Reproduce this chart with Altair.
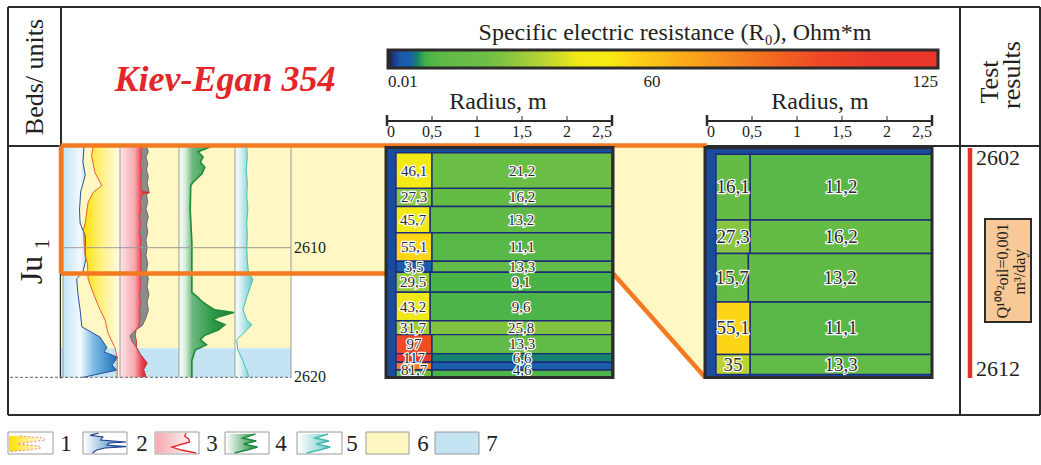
import altair as alt
import pandas as pd

W, H = 1041, 465
SERIF = "Liberation Serif"
INK = "#231f20"

# ---------------- well log of Kiev-Egan 354 ----------------
# depth in m, readings in % of the track width
log1_depth = [2602.2, 2602.9, 2604.2, 2605.2, 2605.75, 2606.5, 2608.1, 2608.6, 2609.6, 2610.65,
              2611.2, 2612.4, 2613.5, 2614.8, 2615.6, 2616.6, 2617.7, 2618.45, 2620.0]
log1_value = [53, 50, 56, 68, 53, 44, 39, 36, 37, 39, 43, 44, 53, 65, 74, 79, 91, 95, 95]

log2_depth = [2602.2, 2603.4, 2604.4, 2605.7, 2607.1, 2608.1, 2609.1, 2610.4, 2610.9, 2611.9,
              2612.4, 2613.5, 2614.8, 2616.1, 2616.9, 2617.7, 2618.05, 2618.45, 2619.05, 2619.45, 2620.0]
log2_value = [37, 35, 39, 31, 29, 30, 39, 39, 40, 35, 24, 26, 30, 33, 65, 77, 72, 96, 86, 94, 35]

log3_depth = [2602.2, 2602.6, 2603.0, 2603.5, 2604.0, 2604.5, 2605.0, 2605.6, 2605.75, 2605.9,
              2606.5, 2607.0, 2607.6, 2608.2, 2608.8, 2609.4, 2610.0, 2610.6, 2611.2, 2611.8,
              2612.4, 2613.0, 2613.6, 2614.2, 2614.8, 2615.4, 2616.0, 2616.4, 2616.8, 2617.2,
              2617.7, 2618.2, 2618.9, 2619.4, 2620.0]
log3_value = [38, 35, 37, 34, 37, 35, 36, 36, 50, 37, 34, 36, 33, 35, 33, 36, 34, 36, 35, 36,
              34, 35, 33, 35, 33, 34, 32, 27, 26, 28, 28, 34, 46, 40, 44]
log3b_value = [45, 48, 44, 47, 45, 48, 46, 49, 49, 45, 47, 44, 48, 45, 47, 44, 46, 44, 47, 45,
               48, 46, 49, 46, 48, 44, 38, 25, 17, 20, 28, 34, 46, 40, 44]

log4_depth = [2602.2, 2602.6, 2603.0, 2603.4, 2603.8, 2604.3, 2604.95, 2605.2, 2607.1, 2609.6,
              2611.2, 2613.45, 2613.85, 2614.15, 2614.4, 2614.8, 2615.0, 2615.35, 2615.55, 2615.95,
              2616.35, 2616.75, 2617.1, 2617.5, 2617.9, 2618.7, 2620.0]
log4_value = [58, 34, 43, 38, 46, 41, 25, 21, 20, 23, 23, 23, 34, 41, 49, 64, 98, 70, 61, 82,
              70, 46, 38, 49, 29, 23, 23]

log5_depth = [2602.2, 2603.0, 2604.0, 2605.0, 2606.0, 2607.0, 2608.0, 2609.0, 2610.0, 2611.0,
              2611.9, 2612.45, 2613.8, 2614.8, 2615.55, 2615.95, 2616.35, 2617.1, 2617.9, 2618.7,
              2619.7, 2620.0]
log5_value = [21, 22, 20, 22, 21, 23, 21, 22, 21, 22, 24, 32, 21, 14, 21, 30, 21, 3, 5, 14, 23, 24]

sand_base = 2617.75          # light-yellow interval above, light-blue below
depth_marks = [2610, 2620]
window = (2602.2, 2612.0)     # tested interval shown in the detailed model
test_top, test_bottom = 2602, 2612

# ---------------- resistivity models (Ohm*m) ----------------
left_edges = [2602.67, 2605.42, 2606.82, 2608.85, 2611.05, 2611.89, 2613.44, 2615.64, 2616.71,
              2618.17, 2618.84, 2619.44, 2619.98]
left_invaded = [46.1, 27.3, 45.7, 55.1, 3.5, 29.5, 43.2, 31.7, 97, 117, 81.7, 22]
left_virgin = [21.2, 16.2, 13.2, 11.1, 13.3, 9.1, 9.6, 25.8, 13.3, 6.6, 4.6, 9.5]
left_inv_radius = [0.5, 0.5, 0.48, 0.5, 0.5, 0.48, 0.48, 0.48, 0.5, 0.5, 0.5, 0.5]
left_labelled = 11

right_edges = [2602.67, 2605.42, 2606.82, 2608.85, 2611.05, 2611.89]
right_invaded = [16.1, 27.3, 15.7, 55.1, 35]
right_virgin = [11.2, 16.2, 13.2, 11.1, 13.3]
right_inv_radius = [0.48, 0.48, 0.46, 0.48, 0.48]
right_labelled = 5

well_radius = 0.1
radius_ticks = [0, 0.5, 1, 1.5, 2, 2.5]

# colour map of the resistivity scale
res_stops = [0.01, 1.5, 3.0, 5.0, 6.5, 8.5, 12.0, 22.0, 27.0, 34.0, 43.0, 50.0, 56.0, 70.0,
             82.0, 97.0, 110.0, 125.0]
res_colors = ["#231f20", "#1a3f8f", "#1b5cab", "#1a5fac", "#127f70", "#44b149", "#5fba46",
              "#6cbe45", "#86c440", "#b0d136", "#efe817", "#f7ec13", "#fdd116", "#f9a11b",
              "#f47a20", "#ef4b24", "#e9392a", "#e8352a"]
res_ticks = [0.01, 60, 125]

# ---------------- legend glyphs (local 0-100 units) ----------------
icon1_y = [15, 25, 35, 45, 55, 65, 75, 85, 92]
icon1_x = [25, 80, 85, 50, 20, 70, 75, 45, 5]
icon2_y = [0, 12, 20, 35, 45, 50, 60, 68, 75, 85, 100]
icon2_x = [35, 15, 45, 40, 100, 60, 55, 100, 50, 30, 20]
icon3_y = [0, 15, 30, 45, 70, 85, 100]
icon3_x = [72, 68, 78, 80, 38, 60, 95]
iconz_y = [5, 25, 40, 55, 70, 85, 100]
iconz_x = [70, 40, 72, 42, 75, 50, 20]


# ---------------- helpers ----------------
def lin(domain, rng):
    return alt.Scale(domain=list(domain), range=list(rng), nice=False, zero=False)


def to_px(domain, rng, v):
    return rng[0] + (v - domain[0]) * (rng[1] - rng[0]) / (domain[1] - domain[0])


ONE = pd.DataFrame({"k": [0]})
PX = lin([0, W], [0, W])
PY = lin([0, H], [0, H])
DEPTH_DOM, DEPTH_RNG = (2602, 2620), (144, 377.3)
DEPTH = lin(DEPTH_DOM, DEPTH_RNG)
ZOOM_DOM, ZOOM_RNG = (2602, 2612), (138.3, 377.2)
ZOOM = lin(ZOOM_DOM, ZOOM_RNG)
TRACKS = [(63, 120), (120, 179), (179, 235), (235, 291)]
R_LEFT = lin([0, 2.5], [387, 612])
R_RIGHT = lin([0, 2.5], [707, 932])
CB_DOM, CB_RNG = (0.01, 125), (388, 938)
CB = lin(CB_DOM, CB_RNG)
RES_COLOR = alt.Scale(domain=res_stops, range=res_colors, interpolate="rgb")
LEFT_PANEL = (386, 613)
RIGHT_PANEL = (705, 932)
PANEL_Y = (147.5, 377.5)


def grad(stops):
    return alt.LinearGradient(gradient="linear", x1=0, x2=1, y1=0, y2=0,
                              stops=[alt.GradientStop(offset=o, color=c) for o, c in stops])


def track(i):
    return lin([0, 100], TRACKS[i])


def h_area(depth, xs, x2, xscale, yscale, fill, **mk):
    x2s = x2 if isinstance(x2, list) else [x2] * len(depth)
    df = pd.DataFrame({"depth": depth, "v": xs, "v2": x2s})
    return alt.Chart(df).mark_area(orient="horizontal", color=fill, **mk).encode(
        y=alt.Y("depth:Q", scale=yscale, axis=None),
        x=alt.X("v:Q", scale=xscale, axis=None),
        x2=alt.X2("v2:Q"),
    )


def curve(depth, xs, xscale, yscale, color, width, **mk):
    df = pd.DataFrame({"depth": depth, "v": xs})
    return alt.Chart(df).mark_line(color=color, strokeWidth=width, **mk).encode(
        y=alt.Y("depth:Q", scale=yscale, axis=None),
        x=alt.X("v:Q", scale=xscale, axis=None),
        order="depth:Q",
    )


def segs(rows, color, width, **mk):
    df = pd.DataFrame(rows, columns=["x", "y", "x2", "y2"])
    return alt.Chart(df).mark_rule(color=color, strokeWidth=width, **mk).encode(
        x=alt.X("x:Q", scale=PX, axis=None), y=alt.Y("y:Q", scale=PY, axis=None),
        x2="x2:Q", y2="y2:Q")


def prect(x, y, x2, y2, **mk):
    df = pd.DataFrame({"x": [x], "y": [y], "x2": [x2], "y2": [y2]})
    return alt.Chart(df).mark_rect(**mk).encode(
        x=alt.X("x:Q", scale=PX, axis=None), y=alt.Y("y:Q", scale=PY, axis=None),
        x2="x2:Q", y2="y2:Q")


def label(txt, x, y, size, **kw):
    style = dict(font=SERIF, fontSize=size, color=INK, align="center", baseline="middle")
    style.update(kw)
    return alt.Chart(ONE).mark_text(text=txt, **style).encode(x=alt.value(x), y=alt.value(y))


def fmt(v):
    s = f"{v:g}"
    return s.replace(".", ",")


layers = []

# ---------------- frame ----------------
frame_col = "#2b2b2b"
layers.append(segs([
    (8, 7, 1040, 7), (8, 415, 1040, 415), (8, 7, 8, 415), (1040, 7, 1040, 415),
    (8, 146, 1040, 146), (61, 7, 61, 146), (960, 7, 960, 415),
], frame_col, 2))
bot_left = to_px(DEPTH_DOM, DEPTH_RNG, window[1])
log_top = to_px(DEPTH_DOM, DEPTH_RNG, window[0])
log_bottom = to_px(DEPTH_DOM, DEPTH_RNG, 2620)
layers.append(segs([(61, bot_left, 61, log_bottom + 1)], frame_col, 2.5))

# ---------------- backgrounds ----------------
bg = pd.DataFrame({"top": [window[0], sand_base], "bot": [sand_base, 2620.0],
                   "kind": ["sand", "water"]})
layers.append(alt.Chart(bg).mark_rect().encode(
    x=alt.value(61), x2=alt.value(TRACKS[-1][1]),
    y=alt.Y("top:Q", scale=DEPTH, axis=None), y2="bot:Q",
    color=alt.Color("kind:N", scale=alt.Scale(domain=["sand", "water"],
                                                range=["#fff7c4", "#c4e4f4"]), legend=None)))
layers.append(prect(TRACKS[-1][1], log_top, LEFT_PANEL[0], bot_left, color="#fff7c4"))
bot_right = to_px(ZOOM_DOM, ZOOM_RNG, window[1])
conn = pd.DataFrame({"x": [LEFT_PANEL[1], RIGHT_PANEL[0]], "y": [bot_left, bot_right],
                     "y2": [log_top, log_top]})
layers.append(alt.Chart(conn).mark_area(color="#fff7c4").encode(
    x=alt.X("x:Q", scale=PX, axis=None), y=alt.Y("y:Q", scale=PY, axis=None), y2="y2:Q"))

# ---------------- log tracks ----------------
t0, t1, t2, t3 = (track(i) for i in range(4))
layers.append(h_area(log2_depth, log2_value, 0, t0, DEPTH,
                     grad([(0, "#bfe3f5"), (0.32, "#f2f9fd"), (0.55, "#7fbde6"), (1, "#1a6fb8")])))
layers.append(h_area(log1_depth, log1_value, 100, t0, DEPTH,
                     grad([(0, "#ffe100"), (0.45, "#fff07a"), (1, "#fffbe6")])))
layers.append(curve(log2_depth, log2_value, t0, DEPTH, "#2b4f9e", 1))
layers.append(curve(log1_depth, log1_value, t0, DEPTH, "#ef5a3c", 1))

layers.append(h_area(log3_depth, log3_value, 0, t1, DEPTH,
                     grad([(0, "#fde6e8"), (0.5, "#f5a7ad"), (0.74, "#e8414b"), (1, "#d81e28")])))
layers.append(h_area(log3_depth, log3_value, log3b_value, t1, DEPTH, "#8c8c8c"))
layers.append(curve(log3_depth, log3b_value, t1, DEPTH, "#555555", 0.8))
layers.append(curve(log3_depth, log3_value, t1, DEPTH, "#d9262e", 0.8))

layers.append(h_area(log4_depth, log4_value, 0, t2, DEPTH,
                     grad([(0, "#ffffff"), (0.12, "#d4ecd8"), (0.24, "#6fb880"),
                           (0.6, "#2f9a4a"), (1, "#1d7f38")])))
layers.append(curve(log4_depth, log4_value, t2, DEPTH, "#1f8a3a", 1.6))

layers.append(h_area(log5_depth, log5_value, 0, t3, DEPTH,
                     grad([(0, "#ffffff"), (0.35, "#d2eff1"), (1, "#62c8c6")])))
layers.append(curve(log5_depth, log5_value, t3, DEPTH, "#48bdb8", 1))

# track grid
grid = [(x, log_top, x, log_bottom) for x in [63] + [t[1] for t in TRACKS]]
y2610 = to_px(DEPTH_DOM, DEPTH_RNG, depth_marks[0])
grid.append((63, y2610, TRACKS[-1][1], y2610))
layers.append(segs(grid, "#9a9a9a", 1))
layers.append(segs([(10, log_bottom, TRACKS[-1][1], log_bottom)], "#666666", 1, strokeDash=[3, 2]))
dm = pd.DataFrame({"d": depth_marks, "t": [str(d) for d in depth_marks]})
layers.append(alt.Chart(dm).mark_text(font=SERIF, fontSize=16, color=INK, align="left",
                                      baseline="middle", dx=3).encode(
    x=alt.value(TRACKS[-1][1]), y=alt.Y("d:Q", scale=DEPTH, axis=None), text="t:N"))


# ---------------- orange outline of the tested window ----------------
orange = "#f37a21"
top_line = 145.5
layers.append(segs([(61, top_line, RIGHT_PANEL[0] + 2, top_line),
                    (61, top_line, 61, bot_left),
                    (61, bot_left, LEFT_PANEL[0], bot_left),
                    (LEFT_PANEL[1], bot_left, RIGHT_PANEL[0], bot_right)], orange, 4.5))


# ---------------- model panels ----------------
def panel(edges, invaded, virgin, inv_r, n_lab, rscale, dscale, px, fsize):
    layers.append(prect(px[0], PANEL_Y[0], px[1], PANEL_Y[1], color="#1b4b9b"))
    rows = []
    for i in range(len(invaded)):
        rows.append(dict(top=edges[i], bot=edges[i + 1], r0=well_radius, r1=inv_r[i],
                         val=invaded[i], show=i < n_lab))
        rows.append(dict(top=edges[i], bot=edges[i + 1], r0=inv_r[i], r1=2.5,
                         val=virgin[i], show=i < n_lab))
    df = pd.DataFrame(rows)
    layers.append(alt.Chart(df).mark_rect(stroke="#1d2c78", strokeWidth=1.4).encode(
        x=alt.X("r0:Q", scale=rscale, axis=None), x2="r1:Q",
        y=alt.Y("top:Q", scale=dscale, axis=None), y2="bot:Q",
        color=alt.Color("val:Q", scale=RES_COLOR, legend=None)))
    lab = df[df["show"]].copy()
    lab["rm"] = (lab["r0"] + lab["r1"]) / 2
    # a label sits in the middle of its layer; a thin unlabelled layer below
    # shares its label space with the one above
    last = n_lab - 1
    bottoms = [edges[i + 2] if (i == last and n_lab < len(invaded)) else edges[i + 1]
               for i in range(n_lab)]
    lab["dm"] = [(edges[i] + bottoms[i]) / 2 for i in range(n_lab) for _ in (0, 1)]
    lab["txt"] = [fmt(v) for v in lab["val"]]
    enc = dict(x=alt.X("rm:Q", scale=rscale, axis=None),
               y=alt.Y("dm:Q", scale=dscale, axis=None), text="txt:N")
    layers.append(alt.Chart(lab).mark_text(font=SERIF, fontSize=fsize, fill="white",
                                           stroke="white", strokeWidth=2.4, strokeJoin="round",
                                           baseline="middle").encode(**enc))
    layers.append(alt.Chart(lab).mark_text(font=SERIF, fontSize=fsize, fill="#2a2a2a",
                                           baseline="middle").encode(**enc))
    layers.append(prect(px[0], PANEL_Y[0], px[1], PANEL_Y[1], fillOpacity=0,
                        stroke="#2b2b2b", strokeWidth=3))


panel(left_edges, left_invaded, left_virgin, left_inv_radius, left_labelled,
      R_LEFT, DEPTH, LEFT_PANEL, 15)
panel(right_edges, right_invaded, right_virgin, right_inv_radius, right_labelled,
      R_RIGHT, ZOOM, RIGHT_PANEL, 19)

# ---------------- radius axes ----------------
for rs in (R_LEFT, R_RIGHT):
    base = pd.DataFrame({"a": [radius_ticks[0]], "b": [radius_ticks[-1]]})
    layers.append(alt.Chart(base).mark_rule(color=frame_col, strokeWidth=2).encode(
        x=alt.X("a:Q", scale=rs, axis=None), x2="b:Q", y=alt.value(121)))
    inner = pd.DataFrame({"r": radius_ticks[1:-1]})
    layers.append(alt.Chart(inner).mark_rule(color=frame_col, strokeWidth=1).encode(
        x=alt.X("r:Q", scale=rs, axis=None), y=alt.value(116), y2=alt.value(121)))
    ends = pd.DataFrame({"r": [radius_ticks[0], radius_ticks[-1]]})
    layers.append(alt.Chart(ends).mark_rule(color=frame_col, strokeWidth=2.5).encode(
        x=alt.X("r:Q", scale=rs, axis=None), y=alt.value(115), y2=alt.value(126)))
    for part, al in ((radius_ticks[:1], "left"), (radius_ticks[1:-1], "center"),
                     (radius_ticks[-1:], "right")):
        tl = pd.DataFrame({"r": part, "t": [fmt(v) for v in part]})
        layers.append(alt.Chart(tl).mark_text(font=SERIF, fontSize=16, color=INK, align=al,
                                              baseline="middle").encode(
            x=alt.X("r:Q", scale=rs, axis=None), y=alt.value(132), text="t:N"))
layers.append(label("Radius, m", 498, 102, 24))
layers.append(label("Radius, m", 820, 102, 24))

# ---------------- colour bar ----------------
span = CB_DOM[1] - CB_DOM[0]
cb_grad = grad([((v - CB_DOM[0]) / span, c) for v, c in zip(res_stops, res_colors)])
layers.append(prect(CB_RNG[0], 50, CB_RNG[1], 68, color=cb_grad))
layers.append(prect(CB_RNG[0], 50, CB_RNG[1], 68, fillOpacity=0, stroke=frame_col,
                    strokeWidth=3))
for part, al in ((res_ticks[:1], "left"), (res_ticks[1:-1], "center"), (res_ticks[-1:], "right")):
    tl = pd.DataFrame({"v": part, "t": [f"{v:g}" for v in part]})
    layers.append(alt.Chart(tl).mark_text(font=SERIF, fontSize=17, color=INK, align=al,
                                          baseline="middle").encode(
        x=alt.X("v:Q", scale=CB, axis=None), y=alt.value(82), text="t:N"))
layers.append(label("Specific electric resistance (R\u2080), Ohm*m", 675, 33, 24))

# ---------------- header texts ----------------
layers.append(label("Beds/ units", 35, 77, 26, angle=270))
layers.append(label("Kiev-Egan 354", 225, 80, 36, fontWeight="bold", fontStyle="italic",
                    color="#e3262a"))
layers.append(label("Test", 990, 82, 26, angle=270))
layers.append(label("results", 1012, 75, 26, angle=270))
layers.append(label("Ju", 32, 270, 32, angle=270))
layers.append(label("1", 43, 244, 20, angle=270))

# ---------------- test results ----------------
layers.append(segs([(970, 148, 970, 378)], "#e4312b", 4.5))
layers.append(label(str(test_top), 976, 158, 22, align="left"))
layers.append(label(str(test_bottom), 976, 369, 22, align="left"))
layers.append(prect(985, 219, 1031, 322, color="#f8c996", stroke=frame_col, strokeWidth=2))
layers.append(label("Q\u00b9\u2070\u2070\u00b2oil=0,001", 1003, 271, 16, angle=270))
layers.append(label("m\u00b3/day", 1020, 272, 16, angle=270))

# ---------------- legend ----------------
boxes = [(8, 53), (83, 127), (155, 199), (225, 269), (297, 342), (366, 409), (435, 479)]
numbers_x = [66, 142, 212, 281, 352, 423, 492]
BY = (432, 454)


def icon_scales(i):
    x0, x1 = boxes[i]
    return lin([0, 100], [x0 + 1, x1 - 1]), lin([0, 100], [BY[0] + 1, BY[1] - 1])


for i, (x0, x1) in enumerate(boxes):
    fill = {5: "#fff7c2", 6: "#c4e4f4"}.get(i, "white")
    layers.append(prect(x0, BY[0], x1, BY[1], color=fill))

sx, sy = icon_scales(0)
layers.append(h_area(icon1_y, icon1_x, 0, sx, sy,
                     grad([(0, "#ffe000"), (0.6, "#fff3a0"), (1, "#ffffff")])))
layers.append(curve(icon1_y, icon1_x, sx, sy, "#f08080", 1, strokeDash=[2, 2]))
sx, sy = icon_scales(1)
layers.append(h_area(icon2_y, icon2_x, 0, sx, sy, grad([(0, "#ffffff"), (1, "#1b75bc")])))
layers.append(curve(icon2_y, icon2_x, sx, sy, "#27408b", 1.2))
sx, sy = icon_scales(2)
layers.append(h_area(icon3_y, icon3_x, 0, sx, sy, grad([(0, "#f6a9b0"), (1, "#ffffff")])))
layers.append(curve(icon3_y, icon3_x, sx, sy, "#e3262b", 1.3))
sx, sy = icon_scales(3)
layers.append(h_area(iconz_y, iconz_x, 0, sx, sy, grad([(0, "#ffffff"), (1, "#1a8a3e")])))
layers.append(curve(iconz_y, iconz_x, sx, sy, "#1a8a3e", 1.5))
sx, sy = icon_scales(4)
layers.append(h_area(iconz_y, iconz_x, 0, sx, sy, grad([(0, "#ffffff"), (1, "#6fcdc8")])))
layers.append(curve(iconz_y, iconz_x, sx, sy, "#45b8b0", 1.5))

for x0, x1 in boxes:
    layers.append(prect(x0, BY[0], x1, BY[1], fillOpacity=0, stroke="#9a9a9a", strokeWidth=1))
for i, x in enumerate(numbers_x):
    layers.append(label(str(i + 1), x, 444, 23))

chart = alt.layer(*layers).resolve_scale(
    x="independent", y="independent", color="independent"
).properties(
    width=W, height=H, padding=0, background="white",
    autosize=alt.AutoSizeParams(type="none"),
).configure_view(stroke=None)

chart.save("out.html", embed_options={"renderer": "svg", "actions": False})
